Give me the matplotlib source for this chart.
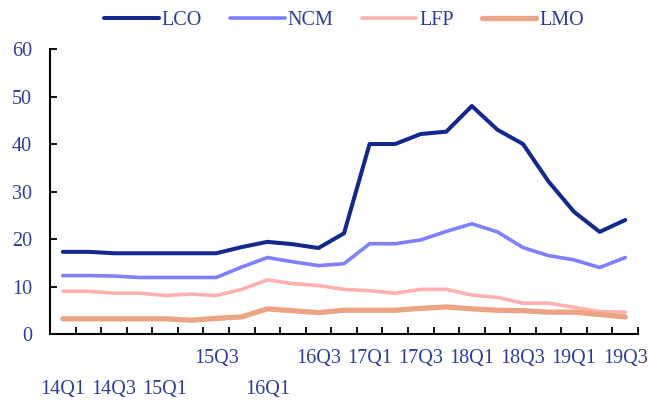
"""Cathode material prices by quarter, 14Q1-19Q3."""
import matplotlib
matplotlib.use("Agg")
import matplotlib.pyplot as plt

quarters = ["14Q1", "14Q2", "14Q3", "14Q4", "15Q1", "15Q2", "15Q3", "15Q4",
            "16Q1", "16Q2", "16Q3", "16Q4", "17Q1", "17Q2", "17Q3", "17Q4",
            "18Q1", "18Q2", "18Q3", "18Q4", "19Q1", "19Q2", "19Q3"]
lco = [17.3, 17.3, 17.0, 17.0, 17.0, 17.0, 17.0, 18.3, 19.4, 18.9, 18.1, 21.2,
       40.0, 40.0, 42.1, 42.6, 48.0, 43.0, 40.0, 32.1, 25.7, 21.5, 24.0]
ncm = [12.3, 12.3, 12.2, 11.9, 11.9, 11.9, 11.9, 14.1, 16.1, 15.2, 14.4, 14.8,
       19.0, 19.0, 19.8, 21.6, 23.2, 21.5, 18.2, 16.5, 15.6, 14.0, 16.1]
lfp = [9.0, 9.0, 8.6, 8.6, 8.1, 8.4, 8.1, 9.4, 11.4, 10.6, 10.2, 9.4,
       9.1, 8.6, 9.4, 9.4, 8.2, 7.7, 6.5, 6.5, 5.6, 4.7, 4.6]
lmo = [3.2, 3.2, 3.2, 3.2, 3.2, 2.9, 3.3, 3.6, 5.3, 4.9, 4.5, 5.0,
       5.0, 5.0, 5.4, 5.7, 5.3, 5.0, 4.9, 4.6, 4.6, 4.1, 3.6]

label_pos = list(range(0, len(quarters), 2))
lower_row = {"14Q1", "14Q3", "15Q1", "16Q1"}

TXT = "#2E3C96"
plt.rcParams["font.family"] = ["Liberation Serif", "DejaVu Serif"]
plt.rcParams["font.size"] = 14.5

fig = plt.figure(figsize=(6.48, 4.03), dpi=100)
ax = fig.add_axes([0.0772, 0.1712, 0.9074, 0.7072])

x = list(range(len(quarters)))
ax.plot(x, lco, color="#13298F", lw=2.9, label="LCO", solid_capstyle="round")
ax.plot(x, ncm, color="#7F7FFF", lw=2.6, label="NCM", solid_capstyle="round")
ax.plot(x, lfp, color="#FFB1B0", lw=2.6, label="LFP", solid_capstyle="round")
ax.plot(x, lmo, color="#EBA585", lw=3.8, label="LMO", solid_capstyle="round")

ax.set_xlim(-0.5, len(quarters) - 0.5)
ax.set_ylim(0, 60)
ax.set_yticks(range(0, 61, 10))

ax.set_xticks(label_pos)
ax.set_xticklabels([quarters[i] for i in label_pos], color=TXT)
ax.set_xticks([i + 0.5 for i in range(len(quarters))], minor=True)
ax.tick_params(axis="x", which="major", length=0)
ax.tick_params(axis="x", which="minor", direction="in", length=5, width=1.3)
for tick, i in zip(ax.xaxis.get_major_ticks(), label_pos):
    tick.set_pad(33 if quarters[i] in lower_row else 11)
ax.tick_params(axis="y", direction="in", length=5, width=1.3, pad=13,
               labelcolor=TXT)

for side in ("top", "right"):
    ax.spines[side].set_visible(False)
for side in ("left", "bottom"):
    ax.spines[side].set_linewidth(1.5)

ax.legend(loc="lower center", bbox_to_anchor=(0.5, 1.04), ncol=4,
          frameon=False, handlelength=2.7, handletextpad=0.15,
          columnspacing=1.4, labelcolor=TXT, borderaxespad=0)

fig.savefig("out.png", dpi=100)
